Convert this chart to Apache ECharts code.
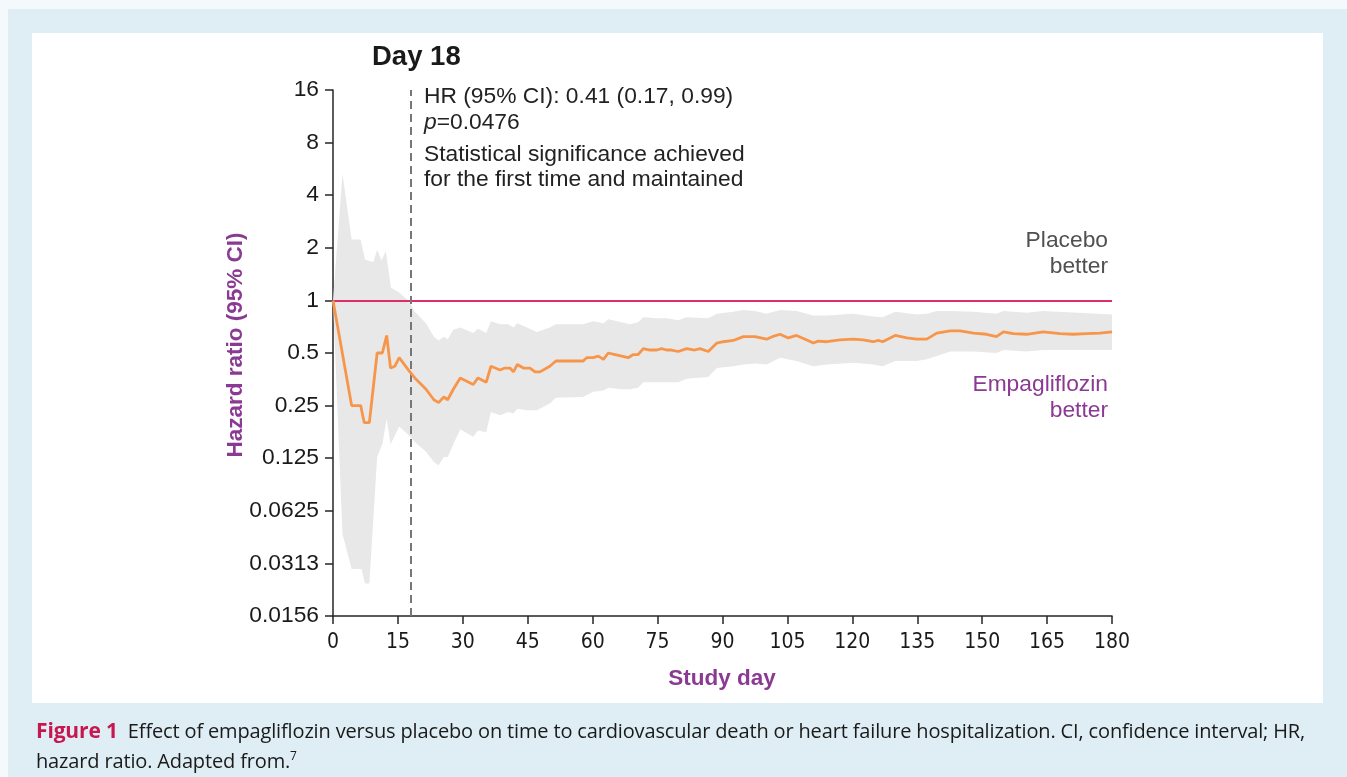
<!DOCTYPE html>
<html>
<head>
<meta charset="utf-8">
<script src="https://cdn.jsdelivr.net/npm/echarts@6/dist/echarts.min.js"></script>
<style>
  html, body { margin: 0; padding: 0; width: 1347px; height: 777px; overflow: hidden; background: #f4f9fb; }
  #bg { position: absolute; left: 8px; top: 9px; width: 1339px; height: 768px; background: #deeef4; }
  #panel { position: absolute; left: 32px; top: 33px; width: 1291px; height: 670px; background: #ffffff; }
  #chart { position: absolute; left: 0; top: 0; width: 1347px; height: 777px; }
  #caption { position: absolute; left: 36px; top: 715px; width: 1300px; white-space: nowrap; font-family: "Open Sans", Lato, sans-serif; font-size: 20px; line-height: 30px; color: #1a1a1a; letter-spacing: -0.15px; }
  #caption b { color: #c8174e; font-size: 21px; margin-right: 5px; }
  #caption sup { font-size: 12px; line-height: 0; }
</style>
</head>
<body>
<div id="bg"></div>
<div id="panel"></div>
<div id="chart"></div>
<div id="caption"><b>Figure 1</b> Effect of empagliflozin versus placebo on time to cardiovascular death or heart failure hospitalization. CI, confidence interval; HR,<br>hazard ratio. Adapted from.<sup>7</sup></div>
<script>
// ---- Data ----
const xTicks = [0, 15, 30, 45, 60, 75, 90, 105, 120, 135, 150, 165, 180];
const yTickLabels = ['0.0156', '0.0313', '0.0625', '0.125', '0.25', '0.5', '1', '2', '4', '8', '16'];

const hrDays = [0, 4.3, 6.4, 7.2, 8.4, 10.2, 11.4, 12.4, 13.3, 14.3, 15.3, 17.4, 18.9, 21.5, 23.3, 24.4, 25.6, 26.5, 27.8, 29.4,
  32.4, 33.5, 35.4, 36.5, 38.6, 39.7, 40.9, 41.7, 42.6, 44.0, 45.5, 46.7, 47.8, 50.1, 51.5, 57.8, 58.6, 60.1, 61.3, 62.5,
  63.6, 65.2, 66.7, 68.2, 69.4, 70.5, 71.7, 73.2, 74.8, 75.9, 77.1, 78.2, 79.8, 81.7, 83.6, 84.8, 86.7, 88.7, 90.2, 92.5,
  94.8, 97.5, 100.2, 101.5, 103.3, 105.2, 107.1, 109.1, 111.0, 112.1, 114.1, 117.1, 120.2, 122.5, 124.8, 126.0, 127.0, 129.9, 132.6, 134.9,
  137.2, 139.5, 142.6, 144.9, 148.0, 151.0, 153.3, 154.9, 157.2, 160.3, 164.1, 168.0, 171.0, 174.1, 177.2, 180];
const hrValues = [1.0, 0.25, 0.25, 0.2, 0.2, 0.5, 0.5, 0.63, 0.41, 0.42, 0.47, 0.40, 0.36, 0.31, 0.27, 0.26, 0.28, 0.27, 0.31, 0.36,
  0.33, 0.36, 0.34, 0.42, 0.40, 0.41, 0.41, 0.39, 0.43, 0.41, 0.41, 0.39, 0.39, 0.42, 0.45, 0.45, 0.47, 0.47, 0.48, 0.46,
  0.50, 0.49, 0.48, 0.47, 0.49, 0.49, 0.53, 0.52, 0.52, 0.53, 0.52, 0.52, 0.51, 0.53, 0.52, 0.53, 0.51, 0.57, 0.58, 0.59,
  0.62, 0.62, 0.60, 0.62, 0.64, 0.61, 0.63, 0.60, 0.57, 0.585, 0.58, 0.595, 0.60, 0.595, 0.58, 0.59, 0.58, 0.63, 0.61, 0.60,
  0.60, 0.65, 0.67, 0.67, 0.65, 0.64, 0.62, 0.66, 0.645, 0.64, 0.66, 0.645, 0.64, 0.645, 0.65, 0.66];

const upperDays = [0, 2.2, 4.3, 6.4, 7.4, 9.3, 10.2, 11.2, 12.2, 13.4, 15.3, 17.4, 18.9, 21.5, 23.3, 24.4, 25.6, 26.5, 27.8, 29.4,
  32.4, 33.5, 35.4, 36.5, 38.6, 40.5, 41.7, 42.6, 44.8, 47.1, 50.1, 51.5, 57.8, 60.1, 62.5, 63.6, 66.7, 68.6, 70.5, 71.7,
  74.8, 77.1, 79.8, 81.7, 86.7, 88.7, 92.5, 94.8, 97.5, 100.2, 103.3, 107.1, 111, 114.1, 120.2, 124.8, 127, 129.9, 134.9, 137.2,
  139.5, 142.6, 148, 153.3, 154.9, 160.3, 164.1, 180];
const upperValues = [1.0, 5.3, 2.23, 2.23, 1.71, 1.66, 1.95, 1.69, 1.91, 1.18, 1.11, 1.0, 0.86, 0.74, 0.62, 0.59, 0.62, 0.60, 0.68, 0.70,
  0.65, 0.69, 0.65, 0.76, 0.73, 0.73, 0.70, 0.74, 0.70, 0.66, 0.70, 0.73, 0.73, 0.76, 0.74, 0.78, 0.75, 0.73, 0.75, 0.80,
  0.79, 0.79, 0.77, 0.80, 0.79, 0.84, 0.86, 0.88, 0.87, 0.84, 0.88, 0.87, 0.82, 0.82, 0.84, 0.81, 0.80, 0.86, 0.83, 0.84,
  0.87, 0.87, 0.86, 0.84, 0.87, 0.85, 0.87, 0.83];

const lowerDays = [0, 2.2, 4.3, 6.6, 7.4, 8.4, 10.2, 11.4, 12.4, 13.3, 15.3, 17.4, 18.9, 21.5, 23.3, 24.4, 25.6, 26.5, 27.8, 29.4,
  32.4, 33.5, 35.4, 36.5, 38.6, 40.5, 41.7, 42.6, 44.8, 47.1, 50.1, 51.5, 57.8, 60.1, 62.5, 63.6, 66.7, 68.6, 70.5, 71.7,
  79.8, 81.7, 86.7, 88.7, 92.5, 94.8, 97.5, 100.2, 103.3, 107.1, 111, 114.1, 120.2, 124.8, 127, 129.9, 134.9, 137.2, 139.5, 142.6,
  148, 153.3, 154.9, 160.3, 164.1, 180];
const lowerValues = [1.0, 0.046, 0.029, 0.029, 0.024, 0.024, 0.127, 0.15, 0.21, 0.15, 0.19, 0.17, 0.155, 0.136, 0.119, 0.114, 0.127, 0.127, 0.15, 0.183,
  0.166, 0.18, 0.176, 0.23, 0.22, 0.23, 0.225, 0.24, 0.235, 0.235, 0.257, 0.277, 0.28, 0.30, 0.305, 0.316, 0.31, 0.31, 0.316, 0.34,
  0.34, 0.356, 0.364, 0.41, 0.42, 0.43, 0.435, 0.43, 0.47, 0.45, 0.42, 0.43, 0.44, 0.43, 0.42, 0.45, 0.45, 0.46, 0.48, 0.51,
  0.51, 0.50, 0.52, 0.51, 0.52, 0.52];

const significanceDay = 18;
const referenceHR = 1;

// ---- Build ----
const lg = v => Math.log2(v);
const hrData = hrDays.map((d, i) => [d, lg(hrValues[i])]);

const chart = echarts.init(document.getElementById('chart'), null, { renderer: 'canvas' });
const FONT = '"Liberation Sans", Arial, sans-serif';
const NARROW = '"Liberation Sans Narrow", "Arial Narrow", "DejaVu Sans Condensed", "Liberation Sans", Arial, sans-serif';
const PURPLE = '#8b3a93';
const FS = 22.8;

chart.setOption({
  animation: false,
  backgroundColor: 'transparent',
  grid: { left: 333, right: 235, top: 90, bottom: 161, containLabel: false },
  xAxis: {
    type: 'value', min: 0, max: 180, interval: 15,
    axisLine: { show: true, onZero: false, lineStyle: { color: '#262626', width: 1.5 } },
    axisTick: { show: true, length: 8, lineStyle: { color: '#262626', width: 1.5 } },
    axisLabel: { margin: 16, color: '#1a1a1a', fontSize: 21, fontFamily: NARROW },
    splitLine: { show: false }
  },
  yAxis: {
    type: 'value', min: -6, max: 4, interval: 1,
    axisLine: { show: true, onZero: false, lineStyle: { color: '#262626', width: 1.5 } },
    axisTick: { show: true, length: 8, lineStyle: { color: '#262626', width: 1.5 } },
    axisLabel: { margin: 14, color: '#1a1a1a', fontSize: 22.8, fontFamily: FONT,
      formatter: v => yTickLabels[Math.round(v) + 6] },
    splitLine: { show: false }
  },
  series: [
    {
      type: 'custom',
      name: 'CI',
      z: 1,
      silent: true,
      data: [[0, 0]],
      renderItem: (params, api) => {
        const pts = [];
        upperDays.forEach((d, i) => pts.push(api.coord([d, lg(upperValues[i])])));
        for (let i = lowerDays.length - 1; i >= 0; i--) pts.push(api.coord([lowerDays[i], lg(lowerValues[i])]));
        return { type: 'polygon', shape: { points: pts }, style: { fill: '#e8e8e8', stroke: null } };
      }
    },
    {
      type: 'line',
      name: 'HR',
      z: 5,
      data: hrData,
      showSymbol: false,
      lineStyle: { color: '#f7964a', width: 2.8 },
      markLine: {
        silent: true, symbol: 'none', label: { show: false },
        data: [
          { yAxis: lg(referenceHR), lineStyle: { color: '#e02d68', width: 1.8, type: 'solid' } },
          { xAxis: significanceDay, lineStyle: { color: '#777', width: 2, type: [8, 5] } }
        ]
      }
    }
  ],
  graphic: [
    { type: 'text', x: 372, y: 57, style: { text: 'Day 18', verticalAlign: 'middle', fontSize: 27.5, fontWeight: 'bold', fill: '#1a1a1a', fontFamily: FONT } },
    { type: 'text', x: 424, y: 97, style: { text: 'HR (95% CI): 0.41 (0.17, 0.99)', verticalAlign: 'middle', fontSize: FS, fill: '#222', fontFamily: FONT } },
    { type: 'text', x: 424, y: 123, style: { text: '{i|p}=0.0476', verticalAlign: 'middle', fontSize: FS, fill: '#222', fontFamily: FONT,
        rich: { i: { fontStyle: 'italic', fontSize: FS, fill: '#222', fontFamily: FONT } } } },
    { type: 'text', x: 424, y: 155, style: { text: 'Statistical significance achieved', verticalAlign: 'middle', fontSize: FS, fill: '#222', fontFamily: FONT } },
    { type: 'text', x: 424, y: 180, style: { text: 'for the first time and maintained', verticalAlign: 'middle', fontSize: FS, fill: '#222', fontFamily: FONT } },
    { type: 'text', x: 1108, y: 241, style: { text: 'Placebo', align: 'right', verticalAlign: 'middle', fontSize: FS, fill: '#505050', fontFamily: FONT } },
    { type: 'text', x: 1108, y: 267, style: { text: 'better', align: 'right', verticalAlign: 'middle', fontSize: FS, fill: '#505050', fontFamily: FONT } },
    { type: 'text', x: 1108, y: 385, style: { text: 'Empagliflozin', align: 'right', verticalAlign: 'middle', fontSize: FS, fill: PURPLE, fontFamily: FONT } },
    { type: 'text', x: 1108, y: 411, style: { text: 'better', align: 'right', verticalAlign: 'middle', fontSize: FS, fill: PURPLE, fontFamily: FONT } },
    { type: 'text', x: 722, y: 679, style: { text: 'Study day', align: 'center', verticalAlign: 'middle', fontSize: 22.5, fontWeight: 'bold', fill: PURPLE, fontFamily: FONT } },
    { type: 'text', x: 236, y: 345, rotation: Math.PI / 2, style: { text: 'Hazard ratio (95% CI)', align: 'center', verticalAlign: 'middle', fontSize: 22.5, fontWeight: 'bold', fill: PURPLE, fontFamily: FONT } }
  ]
});
</script>
</body>
</html>
